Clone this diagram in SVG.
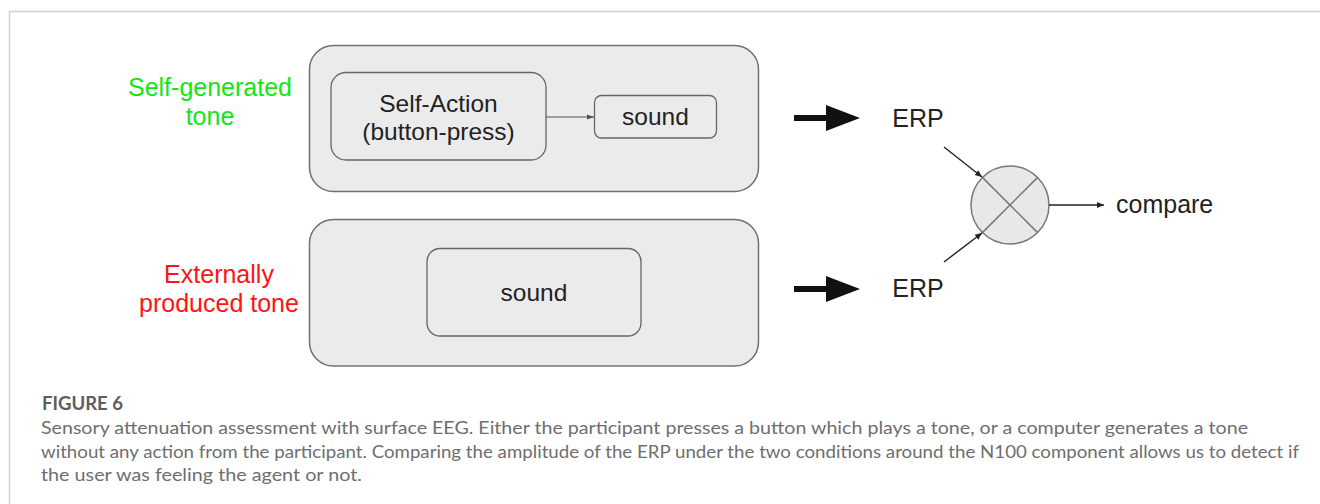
<svg xmlns="http://www.w3.org/2000/svg" width="1320" height="504" viewBox="0 0 1320 504">
<defs>
<style>
.box{fill:#ebebeb;stroke:#707070;stroke-width:1.5}
.inner{fill:#ebebeb;stroke:#666;stroke-width:1.3}
.t{font-family:"Liberation Sans",Arial,sans-serif;font-size:24.5px;fill:#222;text-anchor:middle}
.lbl{font-family:"Liberation Sans",Arial,sans-serif;font-size:25px;text-anchor:middle}
.thin{stroke:#222;stroke-width:1.4;fill:none}
.cap{font-family:Lato,"Open Sans",sans-serif;font-size:17px;fill:#6e6e6e}
</style>
<marker id="ah" markerWidth="8" markerHeight="8" refX="7" refY="4" orient="auto" markerUnits="userSpaceOnUse">
<path d="M0,1 L7,4 L0,7 Z" fill="#222"/>
</marker>
<marker id="ahs" markerWidth="8" markerHeight="8" refX="7" refY="4" orient="auto" markerUnits="userSpaceOnUse">
<path d="M0,1.5 L7,4 L0,6.5 Z" fill="#555"/>
</marker>
</defs>
<rect width="1320" height="504" fill="#ffffff"/>
<path d="M9.5,504 V11.5 H1320" fill="none" stroke="#d2d2d2" stroke-width="1.5"/>

<g id="label-self">
<text class="lbl" x="210" y="96" fill="#14e614">Self-generated</text>
<text class="lbl" x="210" y="125" fill="#14e614">tone</text>
</g>
<g id="label-external">
<text class="lbl" x="219" y="283" fill="#ff1414">Externally</text>
<text class="lbl" x="219" y="312" fill="#ff1414">produced tone</text>
</g>

<g id="self-box">
<rect class="box" x="309.5" y="45.5" width="449" height="146" rx="24"/>
</g>
<g id="self-action">
<rect class="inner" x="331" y="72.5" width="215" height="87.5" rx="15"/>
<text class="t" x="438.5" y="112">Self-Action</text>
<text class="t" x="438.5" y="140">(button-press)</text>
</g>
<g id="sound-top">
<rect class="inner" x="594.5" y="95.5" width="122" height="42.5" rx="7"/>
<text class="t" x="655.5" y="125">sound</text>
</g>

<g id="external-box">
<rect class="box" x="309.5" y="219.5" width="449" height="146.5" rx="24"/>
</g>
<g id="sound-bottom">
<rect class="inner" x="427" y="248.5" width="214" height="87.5" rx="13"/>
<text class="t" x="534" y="301">sound</text>
</g>

<g id="erp-top">
<text class="t" x="918" y="127" style="font-size:25px">ERP</text>
</g>
<g id="erp-bottom">
<text class="t" x="918" y="297" style="font-size:25px">ERP</text>
</g>

<g id="comparator">
<circle cx="1010" cy="205" r="39" fill="#e8e8e8" stroke="#777" stroke-width="1.5"/>
<line x1="982.4" y1="177.4" x2="1037.6" y2="232.6" stroke="#777" stroke-width="1.5"/>
<line x1="982.4" y1="232.6" x2="1037.6" y2="177.4" stroke="#777" stroke-width="1.5"/>
</g>
<g id="compare">
<text class="t" x="1116" y="213" style="text-anchor:start;font-size:25px">compare</text>
</g>

<g id="connectors">
<line x1="546" y1="117" x2="594" y2="117" stroke="#555" stroke-width="1.2" marker-end="url(#ahs)"/>
<path d="M794,115 H826 V105 L860,118 L826,131 V121 H794 Z" fill="#111"/>
<path d="M794,286 H826 V276 L860,289 L826,302 V292 H794 Z" fill="#111"/>
<line class="thin" x1="944" y1="147" x2="982" y2="177" marker-end="url(#ah)"/>
<line class="thin" x1="944" y1="262" x2="982" y2="233" marker-end="url(#ah)"/>
<line class="thin" x1="1049" y1="205" x2="1104" y2="205" marker-end="url(#ah)"/>
</g>

<g id="caption">
<text x="42" y="410" style="font-family:Lato,'Open Sans',sans-serif;font-size:18px;font-weight:bold;fill:#5e5e5e" textLength="81" lengthAdjust="spacingAndGlyphs">FIGURE 6</text>
<text class="cap" x="41" y="434" textLength="1207" lengthAdjust="spacingAndGlyphs">Sensory attenuation assessment with surface EEG. Either the participant presses a button which plays a tone, or a computer generates a tone</text>
<text class="cap" x="41" y="458" textLength="1258" lengthAdjust="spacingAndGlyphs">without any action from the participant. Comparing the amplitude of the ERP under the two conditions around the N100 component allows us to detect if</text>
<text class="cap" x="41" y="481" textLength="321" lengthAdjust="spacingAndGlyphs">the user was feeling the agent or not.</text>
</g>
</svg>
